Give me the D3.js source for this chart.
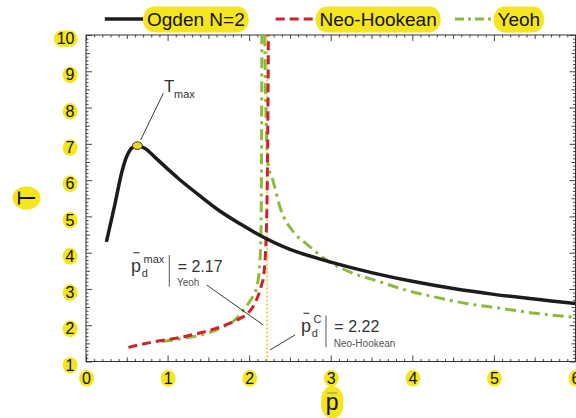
<!DOCTYPE html>
<html><head><meta charset="utf-8">
<script src="https://cdn.jsdelivr.net/npm/d3@7"></script>
<style>
body{margin:0;background:#fff;}
svg{display:block;font-family:"Liberation Sans",Arial,Helvetica,sans-serif;}
</style>
</head><body>
<svg id="chart" width="576" height="418"></svg>
<script>
// ---------- data ----------
const xTicks = [0, 1, 2, 3, 4, 5, 6];
const yTicks = [1, 2, 3, 4, 5, 6, 7, 8, 9, 10];
const seriesNames = ["Ogden N=2", "Neo-Hookean", "Yeoh"];

const ogdenP = [0.25, 0.35, 0.44, 0.50, 0.56, 0.63, 0.72, 0.85, 1.00, 1.15, 1.40, 1.64, 1.90, 2.17, 2.50, 3.00, 3.50, 4.00, 4.50, 5.00, 5.50, 6.00];
const ogdenT = [4.30, 5.29, 6.23, 6.66, 6.88, 6.95, 6.88, 6.62, 6.31, 6.01, 5.56, 5.15, 4.78, 4.43, 4.09, 3.74, 3.45, 3.21, 3.01, 2.85, 2.72, 2.60];

const neoP = [0.52, 0.78, 1.19, 1.60, 1.89, 1.97, 2.08, 2.15, 2.18, 2.20, 2.215, 2.225, 2.232, 2.236];
const neoT = [1.39, 1.52, 1.68, 1.92, 2.19, 2.30, 2.65, 3.10, 3.40, 4.00, 5.00, 6.50, 8.50, 10.0];

const yeohRiseP = [0.93, 1.20, 1.40, 1.65, 1.85, 1.93, 2.02, 2.09, 2.13, 2.145, 2.152, 2.156];
const yeohRiseT = [1.55, 1.64, 1.73, 1.92, 2.20, 2.42, 2.70, 3.02, 3.70, 4.60, 7.00, 10.0];
const yeohFallP = [2.19, 2.20, 2.21, 2.23, 2.29, 2.39, 2.54, 2.72, 2.95, 3.23, 3.60, 3.90, 4.25, 4.66, 5.07, 5.47, 6.00];
const yeohFallT = [10.0, 8.50, 7.40, 6.46, 6.00, 5.17, 4.58, 4.21, 3.80, 3.47, 3.20, 2.98, 2.79, 2.60, 2.47, 2.34, 2.22];

const tMaxPoint = [0.63, 6.95];
const yeohPdMax = "2.17";
const neoPdC = 2.22;

// ---------- setup ----------
const svg = d3.select("#chart");
const x = d3.scaleLinear().domain([0, 6]).range([86, 575.5]);
const y = d3.scaleLinear().domain([1, 10]).range([361.5, 35]);
const YELLOW = "#f4e51c";

function pillsBehind(textSel, padX, padY, rxFn) {
  textSel.each(function () {
    const b = this.getBBox();
    const parent = this.parentNode;
    const w = b.width + 2 * padX, h = b.height + 2 * padY;
    const rect = document.createElementNS("http://www.w3.org/2000/svg", "rect");
    rect.setAttribute("x", b.x - padX);
    rect.setAttribute("y", b.y - padY);
    rect.setAttribute("width", w);
    rect.setAttribute("height", h);
    const r = rxFn ? rxFn(w, h) : Math.min(w, h) / 2;
    rect.setAttribute("rx", r);
    rect.setAttribute("ry", Math.min(h / 2, r * 1.2));
    rect.setAttribute("fill", YELLOW);
    if (this.getAttribute("transform")) rect.setAttribute("transform", this.getAttribute("transform"));
    parent.insertBefore(rect, this);
  });
}

// clip
svg.append("defs").append("clipPath").attr("id", "plotclip")
  .append("rect").attr("x", x(0)).attr("y", y(10)).attr("width", x(6) - x(0)).attr("height", y(1) - y(10));

// ---------- ticks (inside, all four sides) ----------
const minorX = d3.range(0, 61).map(i => i / 10);
const minorY = d3.range(10, 101).map(i => i / 10);
function tickLen(v) {
  const r = Math.round(v * 10);
  if (r % 10 === 0) return 6;
  if (r % 5 === 0) return 4;
  return 2.5;
}
const tickG = svg.append("g").attr("class", "ticks");
function drawTicks(axisFn, scale, vals, transform, sign) {
  [6, 4, 2.5].forEach(len => {
    const g = tickG.append("g").attr("transform", transform)
      .call(axisFn(scale).tickValues(vals.filter(v => tickLen(v) === len)).tickSize(sign * len).tickFormat(""));
    g.select(".domain").remove();
    g.selectAll("line").attr("stroke", "#444").attr("stroke-width", 1);
  });
}
drawTicks(d3.axisBottom, x, minorX, `translate(0,${y(1)})`, -1);
drawTicks(d3.axisTop, x, minorX, `translate(0,${y(10)})`, -1);
drawTicks(d3.axisLeft, y, minorY, `translate(${x(0)},0)`, -1);
drawTicks(d3.axisRight, y, minorY, `translate(${x(6)},0)`, -1);

// frame
svg.append("rect").attr("x", x(0)).attr("y", y(10)).attr("width", x(6) - x(0)).attr("height", y(1) - y(10))
  .attr("fill", "none").attr("stroke", "#333").attr("stroke-width", 1);

// ---------- tick labels ----------
const xLab = svg.append("g").attr("transform", `translate(0,${y(1)})`)
  .call(d3.axisBottom(x).tickValues(xTicks).tickSize(0).tickFormat(d3.format("d")));
xLab.select(".domain").remove();
xLab.selectAll("text").attr("y", 22.3).attr("dy", null)
  .attr("font-size", 16).attr("font-family", "Liberation Sans, Arial, sans-serif").attr("fill", "#111");
pillsBehind(xLab.selectAll("text"), 3, -0.2);

const yLab = svg.append("g").attr("transform", `translate(${x(0)},0)`)
  .call(d3.axisLeft(y).tickValues(yTicks).tickSize(0).tickFormat(d3.format("d")));
yLab.select(".domain").remove();
yLab.selectAll("text").attr("x", -11.5).attr("y", 8.7).attr("dy", null)
  .attr("font-size", 16).attr("font-family", "Liberation Sans, Arial, sans-serif").attr("fill", "#111");
pillsBehind(yLab.selectAll("text"), 3, -0.2);

// ---------- axis titles ----------
const yTitle = svg.append("g");
yTitle.append("text").attr("transform", "translate(34.5,198) rotate(-90)")
  .attr("text-anchor", "middle").attr("font-size", 23).attr("fill", "#111").text("T");
pillsBehind(yTitle.selectAll("text"), 4.5, 1);

const xTitle = svg.append("g");
const xt = xTitle.append("text").attr("x", (x(0) + x(6)) / 2 + 1.5).attr("y", 410.3)
  .attr("text-anchor", "middle").attr("font-size", 23).attr("fill", "#111").text("p");
pillsBehind(xTitle.selectAll("text"), 4.6, 3.2);
{
  const b = xt.node().getBBox();
  xTitle.append("line").attr("x1", b.x + 1.5).attr("x2", b.x + b.width - 1.5)
    .attr("y1", 393).attr("y2", 393).attr("stroke", "#888").attr("stroke-width", 1);
}

// ---------- curves ----------
const line = d3.line().x(d => x(d[0])).y(d => y(d[1])).curve(d3.curveMonotoneX);
const smoothLine = d3.line().x(d => x(d[0])).y(d => y(d[1])).curve(d3.curveCatmullRom.alpha(0.5));
const zip = (a, b) => a.map((v, i) => [v, b[i]]);
const plot = svg.append("g").attr("clip-path", "url(#plotclip)");

// critical Neo-Hookean marker (dotted yellow)
plot.append("line").attr("x1", x(neoPdC)).attr("x2", x(neoPdC)).attr("y1", y(1)).attr("y2", y(10))
  .attr("stroke", "#f6c21c").attr("stroke-width", 1.6).attr("stroke-dasharray", "2,2");

const GREEN = "#8dba3e", RED = "#d0202a", BLACK = "#1c1c1c";
[zip(yeohRiseP, yeohRiseT), zip(yeohFallP, yeohFallT)].forEach(d => {
  plot.append("path").datum(d).attr("d", line).attr("fill", "none")
    .attr("stroke", GREEN).attr("stroke-width", 3).attr("stroke-dasharray", "11,5,3,5");
});
plot.append("path").datum(zip(neoP, neoT)).attr("d", line).attr("fill", "none")
  .attr("stroke", RED).attr("stroke-width", 3).attr("stroke-dasharray", "9,5");
plot.append("path").datum(zip(ogdenP, ogdenT)).attr("d", smoothLine).attr("fill", "none")
  .attr("stroke", BLACK).attr("stroke-width", 3.5).attr("stroke-linejoin", "round");

// ---------- annotations ----------
const ann = svg.append("g").attr("fill", "#333");
// T max
ann.append("line").attr("x1", x(0.9475)).attr("y1", y(8.393)).attr("x2", x(0.6705)).attr("y2", y(7.108))
  .attr("stroke", "#222").attr("stroke-width", 0.9);
svg.append("ellipse").attr("cx", x(tMaxPoint[0])).attr("cy", y(tMaxPoint[1])).attr("rx", 5).attr("ry", 3.8)
  .attr("fill", "#f5d22a").attr("stroke", "#333").attr("stroke-width", 1);
ann.append("text").attr("x", x(0.956)).attr("y", y(8.437)).attr("font-size", 17).text("T");
ann.append("text").attr("x", x(0.956) + 10).attr("y", y(8.437) + 6.6).attr("font-size", 11).text("max");

function pdLabel(px, py, sup, valueText, modelText) {
  const g = ann.append("g");
  g.append("text").attr("x", px).attr("y", py).attr("font-size", 18).text("p");
  g.append("line").attr("x1", px + 2.5).attr("x2", px + 8.5).attr("y1", py - 19).attr("y2", py - 19)
    .attr("stroke", "#444").attr("stroke-width", 1.2);
  const s = g.append("text").attr("x", px + 12.5).attr("y", py - 9).attr("font-size", 11).text(sup);
  g.append("text").attr("x", px + 10.8).attr("y", py + 5).attr("font-size", 11).text("d");
  const sw = s.node().getBBox().width;
  const barX = px + 12.5 + sw + 4.5;
  g.append("line").attr("x1", barX).attr("x2", barX).attr("y1", py - 16.7).attr("y2", py + 15)
    .attr("stroke", "#555").attr("stroke-width", 1);
  g.append("text").attr("x", barX + 8.4).attr("y", py).attr("font-size", 16).text("= " + valueText);
  g.append("text").attr("x", barX + 7.7).attr("y", py + 14.5).attr("font-size", 10).attr("fill", "#555").text(modelText);
}
// Yeoh pd max
pdLabel(x(0.5516), y(3.475), "max", yeohPdMax, "Yeoh");
ann.append("line").attr("x1", x(1.479)).attr("y1", y(3.109)).attr("x2", x(2.173)).attr("y2", y(2.006))
  .attr("stroke", "#222").attr("stroke-width", 0.9);
// Neo-Hookean pd C
pdLabel(x(2.635), y(1.805), "C", neoPdC.toFixed(2), "Neo-Hookean");
ann.append("line").attr("x1", x(2.562)).attr("y1", y(1.730)).attr("x2", x(2.255)).attr("y2", y(1.317))
  .attr("stroke", "#222").attr("stroke-width", 0.9);

// ---------- legend ----------
const legend = svg.append("g");
const legItems = [
  { name: seriesNames[0], color: BLACK, dash: null, w: 3.5, x0: 104.8, x1: 143, tx: 147 },
  { name: seriesNames[1], color: RED, dash: "9,5", w: 3, x0: 275.7, x1: 314, tx: 319.5 },
  { name: seriesNames[2], color: GREEN, dash: "9,4,3,4", w: 3, x0: 455, x1: 492.6, tx: 497.5 }
];
legItems.forEach(it => {
  legend.append("line").attr("x1", it.x0).attr("x2", it.x1).attr("y1", 19).attr("y2", 19)
    .attr("stroke", it.color).attr("stroke-width", it.w).attr("stroke-dasharray", it.dash);
});
const legTexts = legend.selectAll("text.lt").data(legItems).join("text").attr("class", "lt")
  .attr("x", d => d.tx).attr("y", 26).attr("font-size", 19).attr("fill", "#111").text(d => d.name);
pillsBehind(legTexts, 4, 2.4, (w, h) => 11);
</script>
</body></html>
